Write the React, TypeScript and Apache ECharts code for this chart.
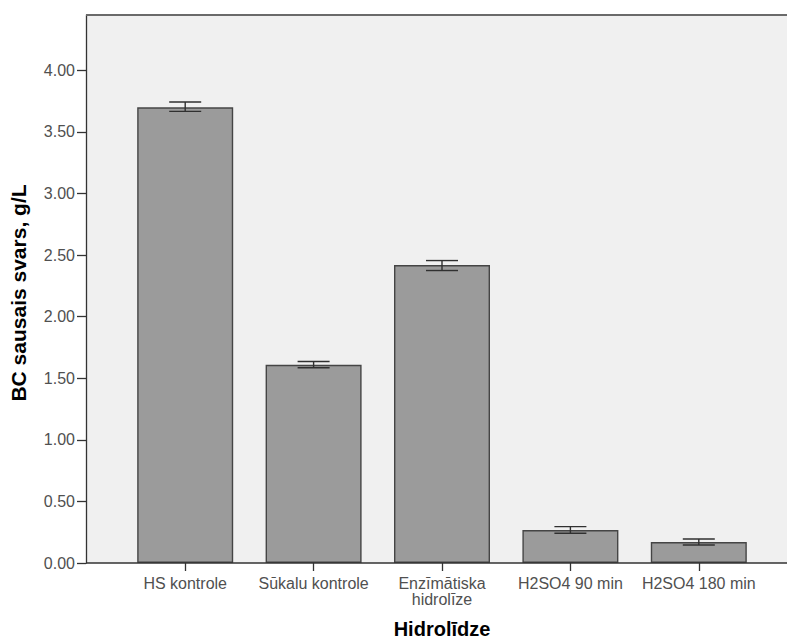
import React, { useEffect, useRef } from "react";
import * as echarts from "echarts";

// Hydrolysis treatments and measured BC dry weight (g/L)
const categories = [
  "HS kontrole",
  "Sūkalu kontrole",
  "Enzīmātiska\nhidrolīze",
  "H2SO4 90 min",
  "H2SO4 180 min",
];
const means = [3.7, 1.61, 2.42, 0.268, 0.17];
const errLow = [3.667, 1.585, 2.375, 0.241, 0.146];
const errHigh = [3.743, 1.636, 2.456, 0.295, 0.195];
const yTicks = [0, 0.5, 1, 1.5, 2, 2.5, 3, 3.5, 4];

const FONT = "'Liberation Sans', Arial, sans-serif";

export default function App() {
  const ref = useRef<HTMLDivElement>(null);

  useEffect(() => {
    if (!ref.current) return;
    const chart = echarts.init(ref.current, undefined, { renderer: "svg" });

    const errData = categories.map((_, i) => [i, errLow[i], errHigh[i]]);

    chart.setOption({
      animation: false,
      backgroundColor: "#ffffff",
      textStyle: { fontFamily: FONT },
      grid: { left: 121, right: 24, top: 15, bottom: 77, containLabel: false },
      graphic: [
        {
          type: "rect",
          z: -10,
          silent: true,
          shape: { x: 86, y: 15, width: 701, height: 548 },
          style: { fill: "#f0f0f0" },
        },
        {
          type: "line",
          z: 10,
          silent: true,
          shape: { x1: 86, y1: 15, x2: 787, y2: 15 },
          style: { stroke: "#6a6a6a", lineWidth: 2 },
        },
        {
          type: "line",
          z: 10,
          silent: true,
          shape: { x1: 86, y1: 563, x2: 787, y2: 563 },
          style: { stroke: "#333333", lineWidth: 1.3 },
        },
        {
          type: "text",
          z: 10,
          x: 442,
          y: 629,
          style: {
            text: "Hidrolīdze",
            fontFamily: FONT,
            fontSize: 20,
            fontWeight: "bold",
            fill: "#000000",
            align: "center",
            verticalAlign: "middle",
          },
        },
        {
          type: "text",
          z: 10,
          x: 18,
          y: 293,
          rotation: Math.PI / 2,
          style: {
            text: "BC sausais svars, g/L",
            fontFamily: FONT,
            fontSize: 21,
            fontWeight: "bold",
            fill: "#000000",
            align: "center",
            verticalAlign: "middle",
          },
        },
      ],
      xAxis: {
        type: "category",
        data: categories,
        axisLine: { show: false },
        axisTick: {
          show: true,
          alignWithLabel: true,
          length: 8,
          lineStyle: { color: "#333333", width: 1.3 },
        },
        axisLabel: {
          color: "#505050",
          fontFamily: FONT,
          fontSize: 16,
          margin: 12,
          lineHeight: 16,
          interval: 0,
        },
        splitLine: { show: false },
      },
      yAxis: {
        type: "value",
        min: 0,
        max: 4.45,
        offset: 35,
        axisLine: { show: true, lineStyle: { color: "#333333", width: 1.3 } },
        axisTick: {
          show: true,
          length: 9,
          customValues: yTicks,
          lineStyle: { color: "#333333", width: 1.3 },
        },
        axisLabel: {
          color: "#505050",
          fontFamily: FONT,
          fontSize: 16,
          margin: 11,
          customValues: yTicks,
          formatter: (v: number) => v.toFixed(2),
        },
        splitLine: { show: false },
      },
      series: [
        {
          type: "bar",
          data: means,
          barWidth: 96,
          itemStyle: {
            color: "#9b9b9b",
            borderColor: "#454545",
            borderWidth: 1.4,
          },
          z: 2,
        },
        {
          type: "custom",
          z: 5,
          data: errData,
          renderItem: (params: any, api: any) => {
            const x = api.value(0);
            const lo = api.coord([x, api.value(1)]);
            const hi = api.coord([x, api.value(2)]);
            const half = 16;
            const style = { stroke: "#303030", lineWidth: 1.4, fill: "none" };
            return {
              type: "group",
              children: [
                {
                  type: "line",
                  shape: { x1: lo[0], y1: lo[1], x2: hi[0], y2: hi[1] },
                  style,
                },
                {
                  type: "line",
                  shape: { x1: hi[0] - half, y1: hi[1], x2: hi[0] + half, y2: hi[1] },
                  style,
                },
                {
                  type: "line",
                  shape: { x1: lo[0] - half, y1: lo[1], x2: lo[0] + half, y2: lo[1] },
                  style,
                },
              ],
            };
          },
        },
      ],
    });

    return () => chart.dispose();
  }, []);

  return (
    <div
      ref={ref}
      style={{ position: "absolute", left: 0, top: 0, width: 787, height: 640 }}
    />
  );
}
